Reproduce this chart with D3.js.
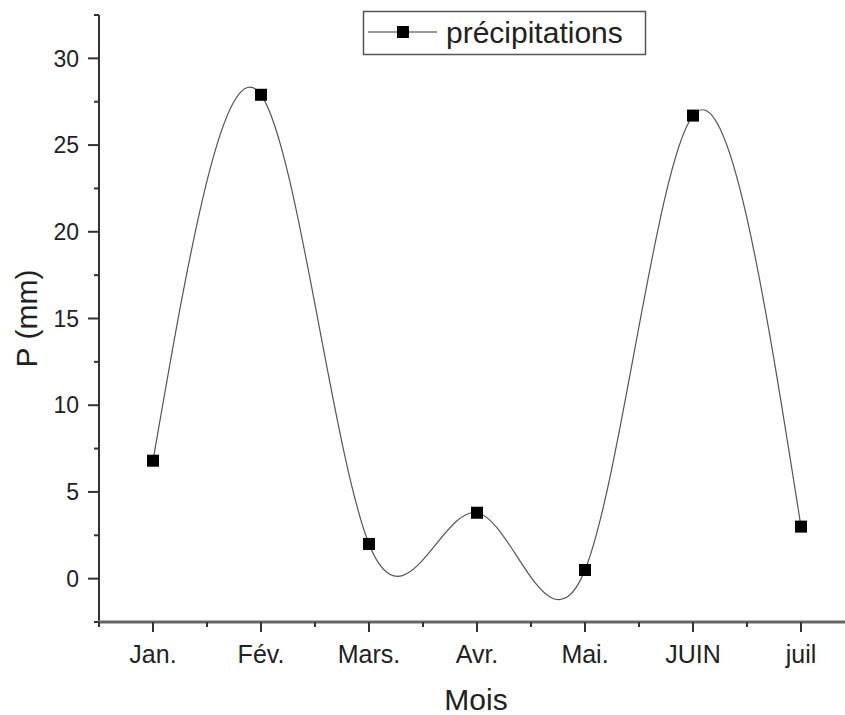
<!DOCTYPE html>
<html lang="fr">
<head>
<meta charset="UTF-8">
<title>Précipitations</title>
<script src="https://d3js.org/d3.v7.min.js"></script>
<style>
  body { margin: 0; background: #fff; overflow: hidden; }
  text { font-family: "Liberation Sans", Arial, sans-serif; fill: #222; }
</style>
</head>
<body>
<div id="chart"></div>
<script>
// data
const months = ["Jan.", "Fév.", "Mars.", "Avr.", "Mai.", "JUIN", "juil"];
const precip = [6.8, 27.9, 2.0, 3.8, 0.5, 26.7, 3.0];
const yTicks = [0, 5, 10, 15, 20, 25, 30];
const seriesName = "précipitations";

const width = 845, height = 715;

const svg = d3.select("#chart").append("svg")
    .attr("width", width)
    .attr("height", height);

const x = d3.scaleLinear().domain([0.5, 7.5]).range([99, 855]);
const y = d3.scaleLinear().domain([-2.5, 32.5]).range([622, 15]);

const pts = precip.map((v, i) => [i + 1, v]);

// curve (smooth spline through the points)
const line = d3.line()
    .x(d => x(d[0]))
    .y(d => y(d[1]))
    .curve(d3.curveNatural);

svg.append("path")
    .datum(pts)
    .attr("d", line)
    .attr("fill", "none")
    .attr("stroke", "#555")
    .attr("stroke-width", 1.2);

// markers
svg.selectAll(".pt")
    .data(pts)
    .enter().append("rect")
    .attr("class", "pt")
    .attr("x", d => x(d[0]) - 6)
    .attr("y", d => y(d[1]) - 6)
    .attr("width", 12)
    .attr("height", 12)
    .attr("fill", "#000");

// y axis
const yAxis = svg.append("g").attr("transform", "translate(" + x(0.5) + ",0)");
yAxis.append("line")
    .attr("y1", y(32.5)).attr("y2", y(-2.5))
    .attr("stroke", "#333").attr("stroke-width", 2);
const yMinor = d3.range(-2.5, 32.6, 5);
yAxis.selectAll(".ymin").data(yMinor).enter().append("line")
    .attr("x1", -5).attr("x2", 0)
    .attr("y1", d => y(d)).attr("y2", d => y(d))
    .attr("stroke", "#333").attr("stroke-width", 2);
yAxis.selectAll(".ymaj").data(yTicks).enter().append("line")
    .attr("x1", -11).attr("x2", 0)
    .attr("y1", d => y(d)).attr("y2", d => y(d))
    .attr("stroke", "#333").attr("stroke-width", 2);
yAxis.selectAll(".ylab").data(yTicks).enter().append("text")
    .attr("x", -20)
    .attr("y", d => y(d))
    .attr("dy", "0.36em")
    .attr("text-anchor", "end")
    .attr("font-size", 23)
    .text(d => d);

// x axis
const xAxis = svg.append("g").attr("transform", "translate(0," + y(-2.5) + ")");
xAxis.append("line")
    .attr("x1", x(0.5) - 1).attr("x2", width)
    .attr("stroke", "#666").attr("stroke-width", 3);
const xMinor = d3.range(0.5, 7.6, 1);
xAxis.selectAll(".xmin").data(xMinor).enter().append("line")
    .attr("x1", d => x(d)).attr("x2", d => x(d))
    .attr("y1", 0).attr("y2", 5)
    .attr("stroke", "#333").attr("stroke-width", 2);
xAxis.selectAll(".xmaj").data(months).enter().append("line")
    .attr("x1", (d, i) => x(i + 1)).attr("x2", (d, i) => x(i + 1))
    .attr("y1", 0).attr("y2", 10)
    .attr("stroke", "#333").attr("stroke-width", 2);
xAxis.selectAll(".xlab").data(months).enter().append("text")
    .attr("x", (d, i) => x(i + 1))
    .attr("y", 41)
    .attr("text-anchor", "middle")
    .attr("font-size", 25)
    .text(d => d);

// axis titles
svg.append("text")
    .attr("x", 476).attr("y", 710)
    .attr("text-anchor", "middle")
    .attr("font-size", 30)
    .text("Mois");
svg.append("text")
    .attr("transform", "translate(37," + y(15) + ") rotate(-90)")
    .attr("text-anchor", "middle")
    .attr("font-size", 30)
    .text("P (mm)");

// legend
const lg = svg.append("g");
lg.append("rect")
    .attr("x", 363.5).attr("y", 11.5)
    .attr("width", 282).attr("height", 43)
    .attr("fill", "#fff").attr("stroke", "#555").attr("stroke-width", 1.5);
lg.append("line")
    .attr("x1", 368).attr("x2", 437)
    .attr("y1", 32).attr("y2", 32)
    .attr("stroke", "#777").attr("stroke-width", 1.5);
lg.append("rect")
    .attr("x", 397).attr("y", 26).attr("width", 12).attr("height", 12)
    .attr("fill", "#000");
lg.append("text")
    .attr("x", 446).attr("y", 43)
    .attr("font-size", 30)
    .text(seriesName);
</script>
</body>
</html>
